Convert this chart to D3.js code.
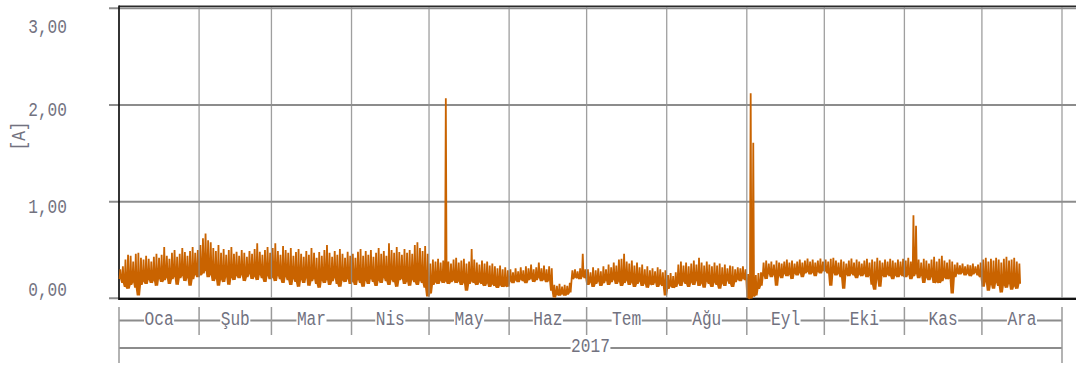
<!DOCTYPE html>
<html>
<head>
<meta charset="utf-8">
<script src="https://cdn.jsdelivr.net/npm/d3@7"></script>
<style>
  html, body { margin: 0; padding: 0; background: #ffffff; }
  svg { display: block; }
</style>
</head>
<body>
<svg id="chart" width="1076" height="365"></svg>
<script>
// Current readings for 2017: daily maximum and minimum, starting on 1 January.
const startDate = "2017-01-01";
const endDate = "2018-01-01";
const yTicks = [0, 1, 2, 3];
const yLabel = "[A]";
const monthLabels = ["Oca", "Şub", "Mar", "Nis", "May", "Haz", "Tem", "Ağu", "Eyl", "Eki", "Kas", "Ara"];
const yearLabel = "2017";

const dailyMax = [
  // Oca
  0.30,0.33,0.40,0.45,0.44,0.38,0.46,0.47,0.42,0.40,0.44,0.41,0.38,0.43,0.46,0.42,0.45,0.53,0.44,0.41,0.47,0.50,0.43,0.46,0.52,0.48,0.44,0.49,0.53,0.47,0.50,
  // Şub
  0.55,0.62,0.67,0.60,0.58,0.52,0.49,0.55,0.47,0.51,0.45,0.50,0.53,0.46,0.48,0.44,0.50,0.47,0.43,0.49,0.46,0.51,0.57,0.48,0.45,0.50,0.53,0.47,
  // Mar
  0.52,0.57,0.49,0.45,0.54,0.50,0.47,0.52,0.44,0.48,0.51,0.46,0.43,0.49,0.45,0.52,0.47,0.42,0.48,0.44,0.50,0.55,0.47,0.43,0.49,0.45,0.51,0.46,0.42,0.48,0.44,
  // Nis
  0.46,0.42,0.48,0.51,0.44,0.49,0.45,0.50,0.43,0.47,0.52,0.46,0.49,0.44,0.57,0.50,0.47,0.53,0.48,0.45,0.51,0.47,0.50,0.46,0.55,0.58,0.52,0.49,0.54,0.46,
  // May
  0.36,0.40,0.38,0.41,0.37,0.39,2.07,0.38,0.36,0.40,0.42,0.37,0.39,0.41,0.36,0.38,0.51,0.40,0.37,0.35,0.39,0.36,0.38,0.34,0.36,0.33,0.31,0.34,0.30,0.32,0.29,
  // Haz
  0.30,0.27,0.31,0.28,0.32,0.29,0.33,0.31,0.35,0.30,0.32,0.37,0.31,0.34,0.30,0.33,0.31,0.14,0.13,0.15,0.12,0.14,0.13,0.16,0.29,0.30,0.28,0.31,0.46,0.30,
  // Tem
  0.30,0.27,0.32,0.29,0.31,0.28,0.33,0.30,0.35,0.32,0.37,0.34,0.40,0.41,0.46,0.38,0.36,0.39,0.34,0.37,0.32,0.35,0.30,0.33,0.29,0.31,0.28,0.32,0.30,0.27,0.29,
  // Ağu
  0.24,0.26,0.23,0.27,0.35,0.38,0.34,0.37,0.33,0.36,0.39,0.35,0.42,0.37,0.34,0.38,0.35,0.33,0.37,0.34,0.36,0.32,0.35,0.31,0.34,0.33,0.30,0.32,0.31,0.33,0.30,
  // Eyl
  0.25,2.12,1.61,0.24,0.26,0.27,0.37,0.39,0.36,0.38,0.35,0.39,0.37,0.36,0.38,0.40,0.37,0.39,0.36,0.38,0.40,0.37,0.39,0.41,0.38,0.40,0.37,0.39,0.41,0.38,
  // Eki
  0.40,0.38,0.41,0.42,0.39,0.37,0.40,0.38,0.36,0.39,0.41,0.37,0.40,0.38,0.36,0.39,0.41,0.37,0.40,0.38,0.42,0.39,0.37,0.40,0.38,0.41,0.39,0.37,0.40,0.38,0.41,
  // Kas
  0.39,0.42,0.38,0.86,0.75,0.40,0.37,0.41,0.39,0.36,0.40,0.43,0.38,0.41,0.44,0.39,0.37,0.40,0.38,0.35,0.37,0.34,0.36,0.33,0.35,0.34,0.36,0.33,0.35,0.37,
  // Ara
  0.40,0.42,0.38,0.41,0.39,0.42,0.40,0.37,0.41,0.43,0.39,0.40,0.42,0.38,0.36
];

const dailyMin = [
  // Oca
  0.20,0.16,0.12,0.10,0.14,0.17,0.11,0.03,0.14,0.18,0.15,0.20,0.16,0.19,0.13,0.21,0.17,0.19,0.22,0.15,0.20,0.23,0.14,0.21,0.24,0.18,0.22,0.13,0.20,0.25,0.22,
  // Şub
  0.24,0.26,0.30,0.22,0.25,0.18,0.21,0.13,0.20,0.17,0.23,0.14,0.22,0.19,0.24,0.21,0.25,0.18,0.22,0.26,0.20,0.23,0.19,0.25,0.21,0.17,0.24,0.20,
  // Mar
  0.22,0.18,0.24,0.20,0.16,0.23,0.19,0.14,0.21,0.17,0.12,0.20,0.16,0.22,0.13,0.18,0.21,0.15,0.11,0.19,0.16,0.20,0.14,0.18,0.22,0.15,0.12,0.19,0.17,0.21,0.15,
  // Nis
  0.18,0.14,0.20,0.16,0.12,0.19,0.15,0.21,0.17,0.13,0.19,0.16,0.22,0.18,0.14,0.20,0.17,0.12,0.19,0.21,0.15,0.18,0.13,0.20,0.17,0.14,0.19,0.16,0.11,0.02,
  // May
  0.05,0.14,0.17,0.15,0.19,0.16,0.18,0.15,0.17,0.19,0.16,0.18,0.14,0.17,0.08,0.15,0.18,0.16,0.14,0.17,0.15,0.13,0.16,0.12,0.15,0.13,0.11,0.14,0.12,0.13,0.12,
  // Haz
  0.18,0.16,0.19,0.17,0.20,0.18,0.16,0.19,0.21,0.17,0.19,0.22,0.18,0.20,0.17,0.19,0.08,0.01,0.04,0.03,0.05,0.03,0.04,0.06,0.20,0.22,0.21,0.20,0.23,0.21,
  // Tem
  0.14,0.17,0.12,0.15,0.18,0.13,0.16,0.19,0.14,0.17,0.20,0.15,0.18,0.13,0.16,0.19,0.14,0.17,0.12,0.15,0.18,0.13,0.16,0.11,0.15,0.14,0.17,0.12,0.15,0.13,0.03,
  // Ağu
  0.10,0.13,0.11,0.12,0.16,0.13,0.18,0.15,0.12,0.17,0.14,0.19,0.13,0.16,0.11,0.18,0.15,0.12,0.17,0.14,0.10,0.16,0.13,0.19,0.15,0.12,0.17,0.20,0.18,0.21,0.19,
  // Eyl
  0.00,0.00,0.02,0.03,0.10,0.13,0.24,0.20,0.26,0.22,0.25,0.13,0.24,0.21,0.26,0.23,0.25,0.20,0.26,0.24,0.27,0.22,0.26,0.28,0.25,0.27,0.23,0.28,0.26,0.29,
  // Eki
  0.28,0.26,0.13,0.27,0.24,0.26,0.22,0.10,0.25,0.23,0.26,0.24,0.21,0.25,0.23,0.26,0.22,0.24,0.14,0.09,0.21,0.12,0.24,0.22,0.25,0.23,0.20,0.24,0.22,0.25,0.23,
  // Kas
  0.22,0.25,0.20,0.23,0.26,0.21,0.24,0.16,0.22,0.19,0.23,0.16,0.17,0.16,0.18,0.22,0.20,0.21,0.05,0.22,0.26,0.25,0.27,0.24,0.26,0.23,0.25,0.27,0.24,0.22,
  // Ara
  0.12,0.18,0.08,0.15,0.10,0.17,0.13,0.06,0.14,0.11,0.16,0.09,0.13,0.10,0.15
];

const svg = d3.select("#chart");
const W = 1076;
const plotLeft = 119, plotRight = 1062, plotTop = 8.3, plotBottom = 298.3;
const textColor = "#72727f";
const gridColor = "#8c8c8c";
const fontFamily = "'Liberation Mono', 'DejaVu Sans Mono', monospace";
const charW = 9.7;

svg.append("rect").attr("width", W).attr("height", 365).attr("fill", "#ffffff");

const parse = d3.utcParse("%Y-%m-%d");
const t0 = parse(startDate), t1 = parse(endDate);
const x = d3.scaleUtc().domain([t0, t1]).range([plotLeft, plotRight]);
const y = d3.scaleLinear().domain([0, 3]).range([plotBottom, plotTop]);
const fmt = d3.formatLocale({ decimal: ",", thousands: ".", grouping: [3], currency: ["", " TL"] }).format(".2f");

// Horizontal grid, running slightly left of the axis as tick stubs
svg.append("g").selectAll("line").data(yTicks).join("line")
  .attr("x1", plotLeft - 10).attr("x2", W)
  .attr("y1", d => y(d)).attr("y2", d => y(d))
  .attr("stroke", gridColor).attr("stroke-width", 2);

// Y tick labels, kept inside the plot's vertical span
svg.append("g").selectAll("text").data(yTicks).join("text")
  .attr("x", 67)
  .attr("y", d => Math.max(plotTop + 18.5, Math.min(plotBottom - 9, y(d) + 4.5)) + 6.5)
  .attr("text-anchor", "end")
  .attr("font-family", fontFamily).attr("font-size", 20)
  .attr("textLength", d => fmt(d).length * charW).attr("lengthAdjust", "spacingAndGlyphs")
  .attr("fill", textColor)
  .text(d => fmt(d));

// Y axis title
svg.append("text")
  .attr("transform", "translate(24.5,136) rotate(-90)")
  .attr("text-anchor", "middle")
  .attr("font-family", fontFamily).attr("font-size", 20)
  .attr("textLength", yLabel.length * charW).attr("lengthAdjust", "spacingAndGlyphs")
  .attr("fill", textColor)
  .text(yLabel);

// Frame: top, left and bottom edges
svg.append("line").attr("x1", plotLeft).attr("x2", W).attr("y1", 6.3).attr("y2", 6.3)
  .attr("stroke", "#2a2a2a").attr("stroke-width", 1.4);
svg.append("line").attr("x1", plotLeft).attr("x2", plotLeft).attr("y1", 5.6).attr("y2", plotBottom + 1.7)
  .attr("stroke", "#111").attr("stroke-width", 1.7);
svg.append("line").attr("x1", plotLeft).attr("x2", W).attr("y1", plotBottom + 0.7).attr("y2", plotBottom + 0.7)
  .attr("stroke", "#111").attr("stroke-width", 2.2);

// Series: each day traced as minimum -> maximum -> minimum
const points = [];
dailyMax.forEach((hi, i) => {
  const day = +d3.utcDay.offset(t0, i);
  const lo = dailyMin[i];
  points.push({ t: new Date(day + 0.2 * 864e5), v: lo });
  points.push({ t: new Date(day + 0.5 * 864e5), v: hi });
  points.push({ t: new Date(day + 0.8 * 864e5), v: lo });
});
svg.append("path")
  .datum(points)
  .attr("d", d3.line().x(d => x(d.t)).y(d => y(d.v)))
  .attr("fill", "none")
  .attr("stroke", "#c96300")
  .attr("stroke-width", 1.8)
  .attr("stroke-linejoin", "bevel");

// Vertical grid at month boundaries, drawn over the series
const monthStarts = d3.utcMonth.range(t0, d3.utcDay.offset(t1, 1));
svg.append("g").selectAll("line").data(monthStarts.slice(1)).join("line")
  .attr("x1", d => x(d)).attr("x2", d => x(d))
  .attr("y1", 7).attr("y2", plotBottom - 0.5)
  .attr("stroke", "#8e8e8e").attr("stroke-opacity", 0.85).attr("stroke-width", 1.3);

// Time axis: month row and year row
const axisG = svg.append("g");
const rowY1 = 320.5, rowY2 = 348;
const tickColor = "#9a9a9a";
axisG.append("line").attr("x1", plotLeft).attr("x2", plotRight).attr("y1", rowY1).attr("y2", rowY1)
  .attr("stroke", gridColor).attr("stroke-width", 2);
axisG.append("line").attr("x1", plotLeft).attr("x2", plotRight).attr("y1", rowY2).attr("y2", rowY2)
  .attr("stroke", gridColor).attr("stroke-width", 2);
axisG.selectAll(".mtick").data(monthStarts).join("line")
  .attr("class", "mtick")
  .attr("x1", d => x(d)).attr("x2", d => x(d))
  .attr("y1", 307)
  .attr("y2", (d, i) => (i === 0 || i === monthStarts.length - 1) ? 363 : 335)
  .attr("stroke", tickColor).attr("stroke-width", 1.5);

const months = monthStarts.slice(0, 12).map((d, i) => ({
  cx: (x(d) + x(monthStarts[i + 1])) / 2,
  label: monthLabels[i]
}));
const mg = axisG.selectAll(".mlab").data(months).join("g").attr("class", "mlab");
mg.append("rect")
  .attr("x", d => d.cx - d.label.length * charW / 2 - 0.5)
  .attr("width", d => d.label.length * charW + 1)
  .attr("y", 318).attr("height", 5).attr("fill", "#fff");
mg.append("text")
  .attr("x", d => d.cx).attr("y", 324.5)
  .attr("text-anchor", "middle")
  .attr("font-family", fontFamily).attr("font-size", 20)
  .attr("textLength", d => d.label.length * charW).attr("lengthAdjust", "spacingAndGlyphs")
  .attr("fill", textColor)
  .text(d => d.label);

const yearCx = (x(t0) + x(t1)) / 2;
axisG.append("rect")
  .attr("x", yearCx - yearLabel.length * charW / 2 - 0.5).attr("width", yearLabel.length * charW + 1)
  .attr("y", 345).attr("height", 6).attr("fill", "#fff");
axisG.append("text")
  .attr("x", yearCx).attr("y", 352)
  .attr("text-anchor", "middle")
  .attr("font-family", fontFamily).attr("font-size", 20)
  .attr("textLength", yearLabel.length * charW).attr("lengthAdjust", "spacingAndGlyphs")
  .attr("fill", textColor)
  .text(yearLabel);
</script>
</body>
</html>
